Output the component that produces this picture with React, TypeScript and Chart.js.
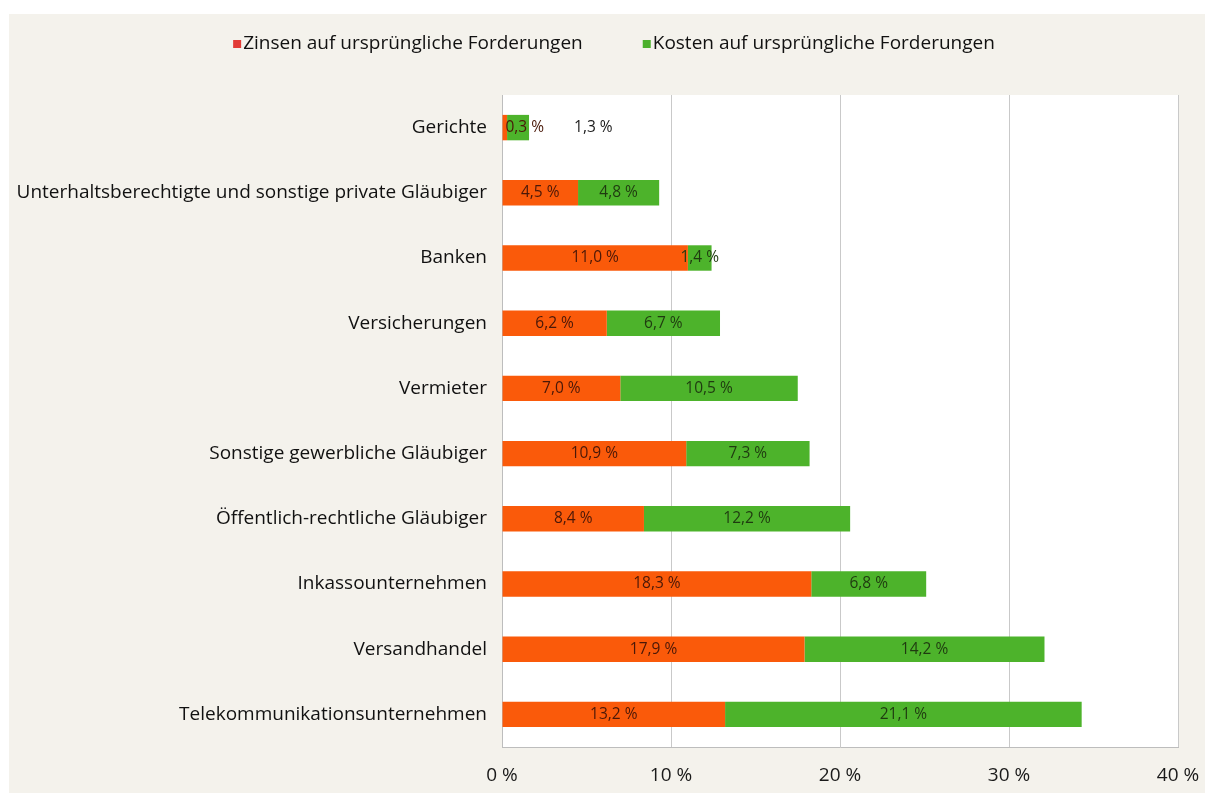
import React, { useEffect, useRef } from "react";
import { Chart, registerables } from "chart.js";

Chart.register(...registerables);

const categories = [
  "Gerichte",
  "Unterhaltsberechtigte und sonstige private Gläubiger",
  "Banken",
  "Versicherungen",
  "Vermieter",
  "Sonstige gewerbliche Gläubiger",
  "Öffentlich-rechtliche Gläubiger",
  "Inkassounternehmen",
  "Versandhandel",
  "Telekommunikationsunternehmen",
];

const zinsen = [0.3, 4.5, 11.0, 6.2, 7.0, 10.9, 8.4, 18.3, 17.9, 13.2];
const kosten = [1.3, 4.8, 1.4, 6.7, 10.5, 7.3, 12.2, 6.8, 14.2, 21.1];

const seriesNames = ["Zinsen auf ursprüngliche Forderungen", "Kosten auf ursprüngliche Forderungen"];
const xTicks = [0, 10, 20, 30, 40];

const FONT = "'Open Sans', Lato, sans-serif";
const fmt = (v: number) => v.toFixed(1).replace(".", ",") + " %";

const bgPlugin = {
  id: "bgPlugin",
  beforeDraw(chart: any) {
    const { ctx, chartArea } = chart;
    ctx.save();
    ctx.fillStyle = "#ffffff";
    ctx.fillRect(0, 0, chart.width, chart.height);
    ctx.fillStyle = "#f4f2ec";
    ctx.fillRect(9, 14, chart.width - 9, chart.height - 14);
    ctx.fillStyle = "#ffffff";
    ctx.fillRect(chartArea.left, chartArea.top, chartArea.right - chartArea.left, chartArea.bottom - chartArea.top);
    ctx.restore();
  },
};

const labelPlugin = {
  id: "labelPlugin",
  afterDatasetsDraw(chart: any) {
    const { ctx } = chart;
    ctx.save();
    ctx.font = `15.5px ${FONT}`;
    ctx.textBaseline = "middle";
    ctx.textAlign = "center";
    const textColors = ["#4a1808", "#1f3a10"];
    const n = chart.data.labels.length;
    for (let i = 0; i < n; i++) {
      let prevRight = -Infinity;
      chart.data.datasets.forEach((ds: any, di: number) => {
        const bar: any = chart.getDatasetMeta(di).data[i];
        const txt = fmt(ds.data[i]);
        const tw = ctx.measureText(txt).width;
        const left = Math.min(bar.base, bar.x);
        const right = Math.max(bar.base, bar.x);
        let cx = (left + right) / 2;
        let outside = false;
        if (right - left < 10) cx = left + 3 + tw / 2;
        if (cx - tw / 2 < prevRight) {
          cx = right + 45 + tw / 2;
          outside = true;
        }
        ctx.fillStyle = outside ? "#1a1a1a" : textColors[di];
        ctx.fillText(txt, cx, bar.y);
        prevRight = cx + tw / 2;
      });
    }
    ctx.restore();
  },
};

const legendPlugin = {
  id: "customLegend",
  afterDraw(chart: any) {
    const { ctx } = chart;
    const colors = ["#e23b36", "#4cb02c"];
    ctx.save();
    ctx.font = `19px ${FONT}`;
    ctx.textBaseline = "middle";
    ctx.textAlign = "left";
    const box = 8;
    const gapBox = 2;
    const gapItems = 60;
    const widths = seriesNames.map((n) => ctx.measureText(n).width);
    const total = widths.reduce((a, b) => a + b, 0) + 2 * (box + gapBox) + gapItems;
    let x = 614 - total / 2;
    const y = 44;
    seriesNames.forEach((n, i) => {
      ctx.fillStyle = colors[i];
      ctx.fillRect(x, y - box / 2, box, box);
      x += box + gapBox;
      ctx.fillStyle = "#111111";
      ctx.fillText(n, x, y);
      x += widths[i] + gapItems;
    });
    ctx.restore();
  },
};

export default function App() {
  const ref = useRef<HTMLCanvasElement | null>(null);
  useEffect(() => {
    if (!ref.current) return;
    const chart = new Chart(ref.current, {
      type: "bar",
      data: {
        labels: categories,
        datasets: [
          {
            label: seriesNames[0],
            data: zinsen,
            backgroundColor: "#fa5a0a",
            barPercentage: 0.39,
            categoryPercentage: 1,
          },
          {
            label: seriesNames[1],
            data: kosten,
            backgroundColor: "#4db32b",
            barPercentage: 0.39,
            categoryPercentage: 1,
          },
        ],
      },
      options: {
        indexAxis: "y",
        animation: false,
        responsive: false,
        maintainAspectRatio: false,
        layout: { padding: { left: 9, right: 27, top: 95, bottom: 0 } },
        plugins: {
          legend: { display: false },
          tooltip: { enabled: false },
        },
        scales: {
          x: {
            stacked: true,
            min: 0,
            max: 40,
            afterBuildTicks: (scale: any) => {
              scale.ticks = xTicks.map((v) => ({ value: v }));
            },
            afterFit: (scale: any) => {
              scale.height = 46;
              scale.paddingRight = 0;
              scale.paddingLeft = 0;
            },
            ticks: {
              padding: 17,
              color: "#1a1a1a",
              font: { family: FONT, size: 19 },
              callback: (v: any) => `${v} %`,
            },
            grid: { color: "#c9c9c9", drawTicks: false, lineWidth: 1 },
            border: { display: true, color: "#bdbdbd" },
          },
          y: {
            stacked: true,
            afterFit: (scale: any) => {
              scale.width = 493;
            },
            ticks: {
              padding: 15,
              color: "#111111",
              font: { family: FONT, size: 19 },
            },
            grid: { display: false, drawTicks: false },
            border: { display: true, color: "#bdbdbd" },
          },
        },
      },
      plugins: [bgPlugin, labelPlugin, legendPlugin],
    });
    return () => chart.destroy();
  }, []);
  return (
    <div style={{ position: "fixed", left: 0, top: 0, width: 1205, height: 793 }}>
      <canvas ref={ref} width={1205} height={793} style={{ width: 1205, height: 793, display: "block" }} />
    </div>
  );
}
